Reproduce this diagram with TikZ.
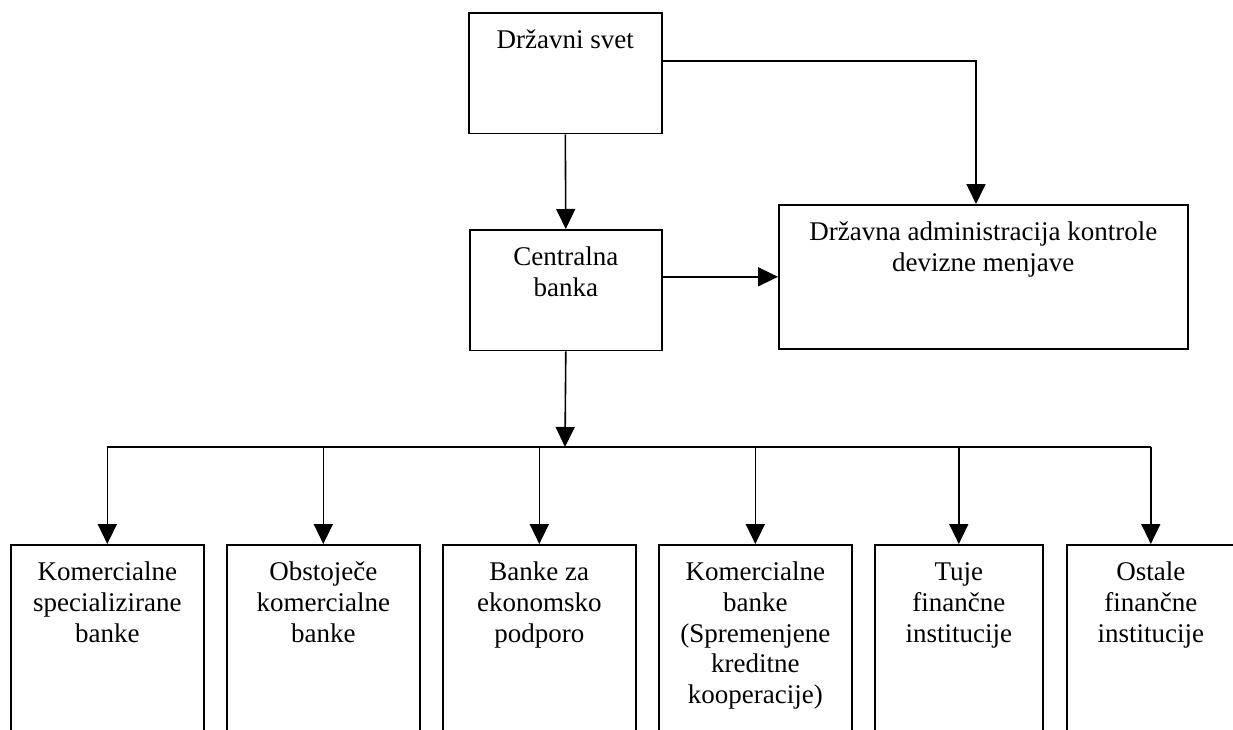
\documentclass[tikz,border=0pt]{standalone}
\usepackage{fontspec}
\setmainfont{Liberation Serif}
\usetikzlibrary{arrows.meta}

\tikzset{
  unit/.style={draw, line width=1.6pt, inner sep=0pt, align=center, anchor=north west,
    font=\fontsize{27}{30.7}\selectfont},
  tip/.style={line width=1.6pt, -{Triangle[length=20pt,width=19pt]}}
}

\begin{document}
\begin{tikzpicture}[x=1pt, y=-1pt]
    \clip (0,0) rectangle (1233,729);

    % Draw upper boxes
    \node[unit, minimum width=193pt, text height=36pt, text depth=84.7pt] (svet) at (468,12) {Državni svet};
    \node[unit, minimum width=192pt, text height=66.7pt, text depth=54pt] (cbanka) at (469,229) {Centralna\\banka};
    \node[unit, minimum width=409pt, text height=66.7pt, text depth=77.3pt] (devize) at (778,204)
      {Državna administracija kontrole\\devizne menjave};

    % Draw lower boxes (cut off by the page edge)
    \foreach \n/\x/\w/\h/\t in {komspec/10/193/97.4/{Komercialne\\specializirane\\banke},
        obstkom/226/193/97.4/{Obstoječe\\komercialne\\banke},
        ekpod/442/193/97.4/{Banke za\\ekonomsko\\podporo},
        kombank/658/193/158.8/{Komercialne\\banke\\(Spremenjene\\kreditne\\kooperacije)},
        tuje/874/168/97.4/{Tuje\\finančne\\institucije},
        ostale/1066/168/97.4/{Ostale\\finančne\\institucije}} {
        \node[unit, minimum width=\w pt, text height=\h pt, text depth=200pt] (\n) at (\x,544) {\t};
      }

    % Draw connectors
    \coordinate (kink) at (976,61);
    \coordinate (hub) at (565,447);
    \draw[tip] (svet.east |- kink) -- (kink) -- (devize.north -| kink);
    \draw[tip] (svet.south) -- (cbanka.north);
    \draw[tip] (cbanka.east |- devize.west) -- (devize.west);
    \draw[tip] (cbanka.south) -- (hub);
    \draw[line width=1.6pt] (hub -| komspec.north) -- (hub -| ostale.north);
    \foreach \n in {komspec, obstkom, ekpod, kombank, tuje, ostale} {
        \draw[tip] (hub -| \n.north) -- (\n.north);
      }
  \end{tikzpicture}
\end{document}
